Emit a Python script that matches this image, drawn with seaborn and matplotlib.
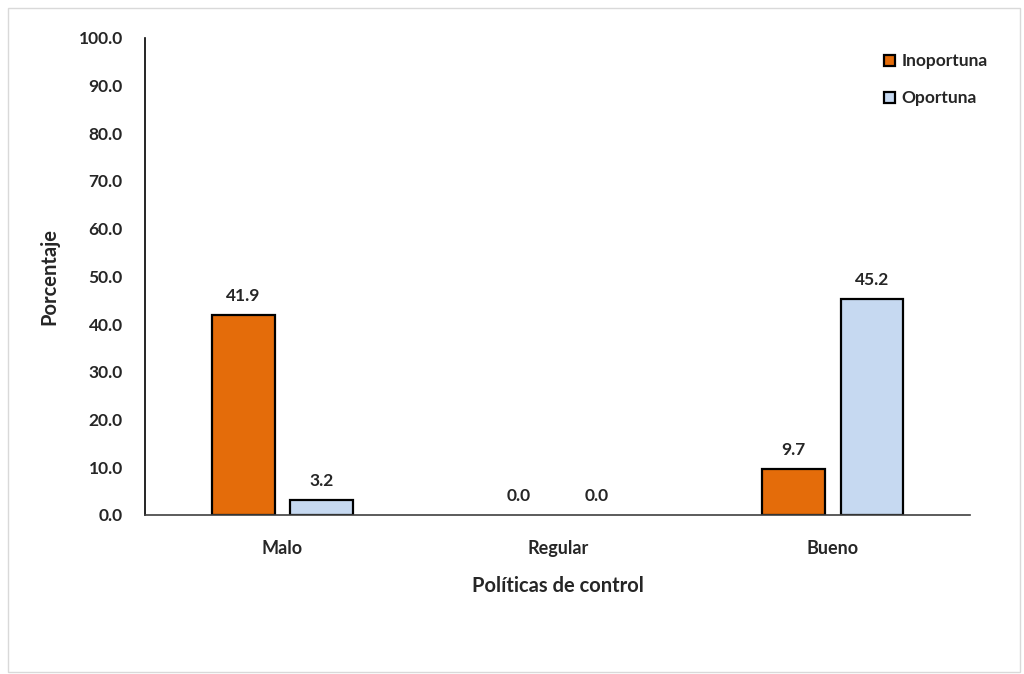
import pandas as pd
import matplotlib.pyplot as plt
import seaborn as sns
from matplotlib.patches import Rectangle

# data
categorias = ["Malo", "Regular", "Bueno"]
inoportuna = [41.9, 0.0, 9.7]
oportuna = [3.2, 0.0, 45.2]

df = pd.DataFrame({
    "Políticas de control": categorias * 2,
    "Porcentaje": inoportuna + oportuna,
    "Tipo": ["Inoportuna"] * 3 + ["Oportuna"] * 3,
})

sns.set_style("white")
plt.rcParams["font.family"] = ["Lato", "DejaVu Sans"]
plt.rcParams["font.weight"] = "bold"

fig = plt.figure(figsize=(10.24, 6.74), dpi=100)
ax = fig.add_axes([0.1416, 0.236, 0.806, 0.708])

sns.barplot(data=df, x="Políticas de control", y="Porcentaje", hue="Tipo",
            palette=["#E46C0A", "#C6D9F1"], saturation=1, width=0.57, gap=0.2,
            edgecolor="black", linewidth=1.6, ax=ax)

for cont in ax.containers:
    # zero bars show no outline
    for bar in cont:
        if bar.get_height() == 0:
            bar.set_linewidth(0)
    ax.bar_label(cont, fmt="%.1f", padding=8, fontsize=12.5, fontweight="bold")

ax.set_ylim(0, 100)
ax.set_yticks(range(0, 101, 10))
ax.set_yticklabels([f"{v:.1f}" for v in range(0, 101, 10)])
ax.tick_params(axis="y", length=0, pad=16, labelsize=12.5)
ax.tick_params(axis="x", length=0, pad=18, labelsize=13)
for lab in ax.get_xticklabels() + ax.get_yticklabels():
    lab.set_fontweight("bold")

ax.set_xlabel("Políticas de control", fontsize=14.5, fontweight="bold", labelpad=14)
ax.set_ylabel("Porcentaje", fontsize=14.5, fontweight="bold", labelpad=14)

sns.despine(ax=ax)
ax.spines["left"].set_color("black")
ax.spines["bottom"].set_color("#404040")
ax.spines["left"].set_linewidth(1.2)
ax.spines["bottom"].set_linewidth(1.2)

leg = ax.legend(loc="upper right", bbox_to_anchor=(1.04, 1.0), frameon=False,
                fontsize=12.5, handlelength=0.6, handleheight=0.6,
                labelspacing=1.2, handletextpad=0.4)
for t in leg.get_texts():
    t.set_fontweight("bold")

# thin frame around the chart
fig.patches.append(Rectangle((0.008, 0.003), 0.988, 0.985, transform=fig.transFigure,
                             fill=False, edgecolor="#d9d9d9", linewidth=1))

fig.savefig("out.png", dpi=100)
